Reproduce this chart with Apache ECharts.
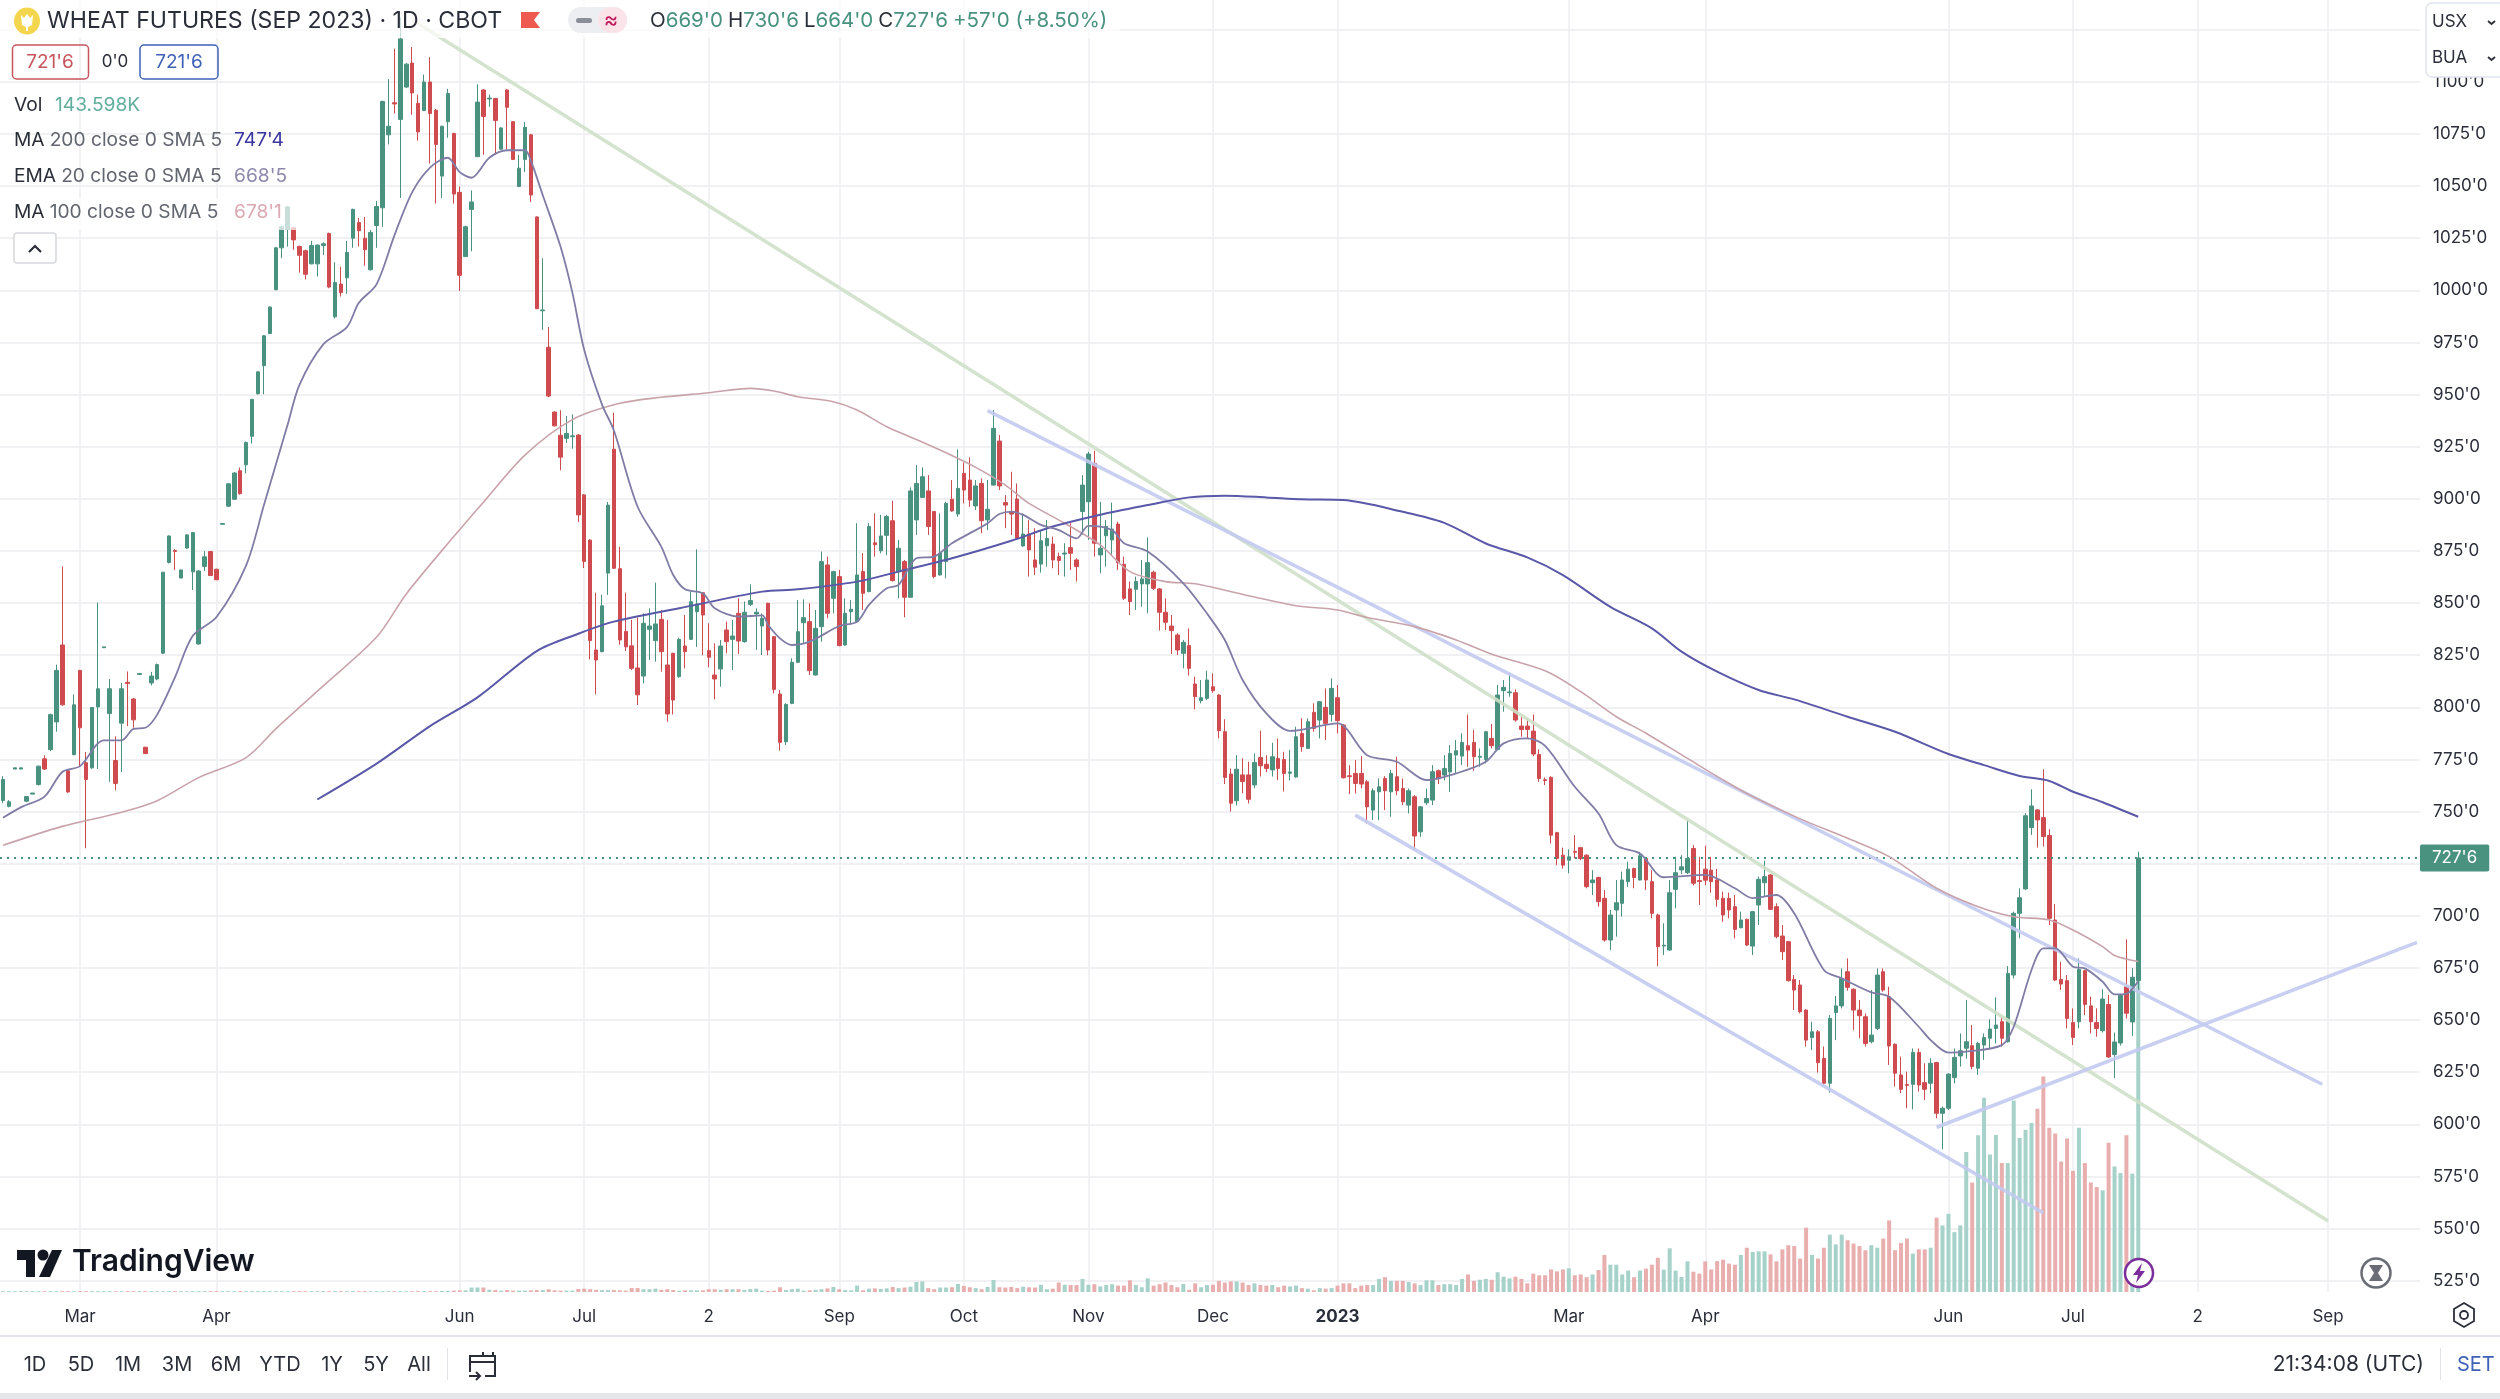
<!DOCTYPE html>
<html><head><meta charset="utf-8"><style>html,body{margin:0;padding:0;background:#fff}#c{width:2500px;height:1399px}</style>
<script src="https://cdn.jsdelivr.net/npm/echarts@6/dist/echarts.min.js"></script></head><body><div id="c"></div>
<script>
const tickLabels = {13:'Mar',36:'Apr',77:'Jun',98:'Jul',119:'2',141:'Sep',162:'Oct',183:'Nov',204:'Dec',225:'2023',264:'Mar',287:'Apr',328:'Jun',349:'Jul',370:'2',392:'Sep'};
const slotCount = 408;
const lastPrice = 727.75;
const opens = [
755.3,752.5,770.4,770.4,755,758.4,763,775.3,779.7,793,
829.9,769.6,777.3,817.7,773.4,771,800.2,828.6,797,774.5,
792.4,812,804,815.8,780.9,811.7,813.6,826,869.5,875.2,
862,876.4,865,830.4,867.6,874.7,866.2,887.8,896.5,899.8,
913.5,916.3,930,950.4,963.9,979.3,1000.3,1020.4,1029.2,1030,
1021,1019,1012.7,1012.7,1021.5,1027.3,987.3,1003,1006,1025,
1032.5,1025,1009.9,1031.1,1039.6,1074.6,1090,1082,1097.5,1109,
1089.7,1086.2,1099.9,1086.4,1054.8,1080.9,1075.2,1047,1016.2,1038.8,
1064.1,1096.1,1091.8,1092,1067.7,1096.1,1080.9,1049.8,1062.8,1074.6,
1035.2,990.2,972.7,941.6,930.5,929,929.8,930.6,901.9,880.2,
827.5,826.7,864.4,923.8,866.5,836.4,829.5,818.9,815,837.4,
832,842.2,820.3,825.9,814.7,829.4,832.6,845.9,855,827.2,
815.5,818.4,837.1,832.6,845.1,831.5,849.4,844.8,839,849.9,
833.9,806.4,783.5,801.9,821.6,840.6,841.1,815.5,838.7,868.3,
852.3,862.7,829.9,845.9,841.1,865.1,855.5,878.9,875.1,882.5,
889.5,865.1,869.9,852.8,889.9,900.7,903.8,893.9,863.5,869.9,
899.8,892.7,912.2,909,896.6,907.4,889.9,906.6,927.7,898.2,
893.9,899.9,877.4,883.1,870.7,868.7,877.5,878.3,872.3,873.5,
876.6,870.7,893.9,898.6,917,873.1,882.3,880.3,887.9,868.6,
856.8,856.6,859.2,859.2,864.8,856.8,845.6,839,834.7,825.9,
829.6,811.2,803.2,804.3,809.9,805.9,788.3,768,755.2,767.6,
767.6,762.8,775.9,772.7,770,775.5,775,768.4,766.6,787.5,
780.3,797.6,793.9,800,796.6,804.6,791.5,767.2,768.3,768.3,
764.3,750.7,759.5,765.9,759.5,766.7,761.1,753.1,757.1,740.3,
754.2,755.5,769.6,767.5,769,777.1,776.6,781.6,783.2,776.1,
775,785.1,779.8,808,807,807,791,791,788.6,777.4,
765.3,766.4,739.9,729.1,726.7,730.9,732.7,729.1,715.9,718.4,
708.4,688.4,702.8,706,716.4,722.7,717.2,727.5,716.4,700.4,
685.5,683.6,712.7,722,720.7,732.3,716.9,722.4,721.9,717.2,
708.4,708.4,704.4,694.3,698.3,685.5,705.2,715.9,719.6,704.4,
690.3,687.6,669.5,666.8,654.8,641.6,644.4,631.6,619.7,653.6,
656.8,673.2,664.8,654.8,651.6,639.6,646,673.2,661.2,638.4,
623.7,619.1,619.2,634.5,620,619.7,629.6,605.3,607.7,622.4,
632.8,636.5,637.7,626.9,638,641.3,646,649.2,639.6,671.6,
701.2,712.9,742.3,750.8,747.1,738.5,698,669.5,668.9,648.8,
649.2,673.7,656.8,648.8,644.9,657.5,633.5,639,666,649.1,669];
const closes = [
765.4,754.7,771,771,757.2,758.9,771.8,770.4,796.5,817.7,
801.2,759.4,801.2,790.2,765.4,799.9,808.9,829,808.9,763.5,
808.9,811.4,794,816.2,777.8,815,820.5,864.8,882.2,874.8,
865.9,882.7,883.8,865.4,872.2,863.2,861.2,888.2,907.2,912.4,
902.5,927,947.7,960.9,978.2,992,1020.4,1030.5,1040,1024.2,
1016.8,1007.7,1021.5,1021.7,1022.3,1001.6,1003.8,998.9,1018.2,1038.8,
1028.6,1019.5,1027.8,1040.2,1090.6,1078.7,1089.4,1120.6,1108.5,1094.7,
1076,1099.9,1084.8,1070,1078.7,1094.4,1046.2,1007.2,1030.5,1042.4,
1090.3,1083.4,1092.2,1081.5,1077.9,1087.8,1062.8,1058.6,1078.2,1045.7,
991.2,990.6,949.3,935,920,931.4,930.2,892.3,870,832,
822.7,848.7,897,866.7,832.3,829,818.7,806,840.3,839,
840,826.7,796.8,803.5,832.6,826.7,850.7,849.6,844.3,824,
813.6,829.4,831.5,834.2,831.8,845.6,851.2,845.6,842.7,827.5,
808.6,783.2,801.4,821.6,836.3,843,817.6,837.9,869.9,845.1,
865.1,829.6,845.1,847,863.5,854.7,886.7,878,882.2,891.5,
860.8,876.3,852.8,903.8,907.4,910.6,886.7,862.7,873.9,897.8,
894.2,905,904.2,899.4,906.2,889.5,895,933.8,906.2,897,
892.7,881,883.1,875.5,867.2,879.9,881,870.7,870.4,874,
873.9,867.5,906.6,921.5,878.7,876.3,886.7,885.5,869.4,852.3,
850.7,860.3,861.6,869.4,857.1,845.6,840.8,836.8,827.5,831.2,
818.7,805.1,804.6,813.1,808,788.8,766.4,754,770.3,764.4,
755.9,773.6,772,770.7,776.3,770.7,768.3,769,785.9,781.1,
793.1,789.9,802.7,792.3,809.1,793.6,766.2,766.8,763.5,763.2,
752.3,760,761.9,760,768.3,760,754.7,760,738.3,752.3,
756.3,769.1,765.9,770.7,777.9,779.2,783.2,779.5,776.3,776.5,
788.3,781.6,805.9,809.6,807.4,793.9,789.4,789.4,777.6,765.9,
764.9,738.7,727.5,724.3,728.3,730.5,727.5,714,717.2,706.8,
688.4,700.4,706.3,717.2,722.4,718.4,728.8,717.2,701.2,685.2,
685.9,711.1,720.7,723.5,727.5,715.6,716.5,717.1,716.4,707.9,
700.4,702.8,693.5,698,686,702,717.5,718.8,703.1,690,
682.8,668.9,664.4,654,640.4,644.4,629.6,619.7,650.8,656.8,
670,665.7,654.8,652.1,638.8,642.8,671.6,664.4,637.6,624.5,
616.8,618.7,634.5,618.9,616.8,629.3,605.3,607.7,624.1,632.1,
635.3,639.6,627.7,638.8,641.6,645.7,647.6,641.3,672.4,701.2,
708.7,748,752.7,746,738,698.8,669.2,667.3,650.8,641.7,
674.3,657.5,649.2,646,660.1,632.3,639.5,661.8,653.3,670.5,727.75];
const lows = [
754,752,770.4,770.4,754.5,758.4,762.5,770,779,788.3,
800.7,759,777,771.8,732.4,770.5,770.4,828.6,764.3,760.2,
769,791,790.2,815.8,777.8,810.5,813,825.5,869,865.9,
862,876,856.3,830,865.4,863,861,887.8,896,899.5,
902,912.2,926.5,950,950.2,979,1000,1015.4,1021,1019.5,
1008.5,1005.2,1012.5,1006.6,1017,1001,986.5,997,998.3,1020.4,
1021,1011.8,1009.5,1020.4,1030.5,1070,1084.8,1044.3,1097,1084.2,
1071.8,1086,1060.8,1041.6,1044.3,1073.2,1041.6,999.7,1016,1018.7,
1064,1065,1088,1065,1067.5,1067.7,1062.5,1049.5,1056.7,1042.4,
991,981,948.8,934.7,913.7,926.8,924,888.8,866.8,823,
806.2,826.4,853.9,866.4,830,827,817.9,801.1,811.5,822.7,
821.9,817.1,793.1,796.6,814.2,818.7,832.3,829,825,819.2,
803.8,809.9,825.9,817.9,825.6,831,848.6,827.5,825.1,825,
806.7,779.2,781.9,801.5,821.2,830.7,815.5,815.2,831.5,842.7,
845.1,829.3,829.6,840.3,840.8,846.7,855.2,872.3,873.9,873,
860.3,852.3,843.2,852.5,882.7,900.4,882.7,861.9,863.2,861.9,
893.8,891.4,897.8,896.2,894.6,883.5,885,906.3,904.2,885.9,
882.7,880.3,877,862.7,863.5,864.6,867.5,866.7,863.5,862.7,
865.9,860.3,882.7,880.3,872.3,864.3,867.5,873,865.9,851.5,
844.3,846.7,848.3,845.1,856.3,836.8,837.1,825.6,825.1,818.7,
815.2,799,801.9,803.5,807,785.1,763.2,750,752.9,758.8,
753.9,761.2,766.8,768.9,766.8,765.1,759.6,765,766.3,778.7,
780,788.3,785.1,784.3,793.1,787.5,765.9,758.4,758.7,761.1,
744.3,745.9,745.9,750.7,747.5,757.9,753.1,749.1,731.5,737.9,
753.1,753.1,763.2,765,759.5,768.3,772.3,771.5,769.6,771.5,
773.1,780.3,779.4,797.9,805.1,793.1,785.9,785.1,776.6,764.3,
762.7,734.7,724.3,722.7,720.4,727.5,726.7,713.2,710,704.4,
687.6,683.6,690,699.6,713.9,713.2,717,712.4,698.8,675.9,
681.2,683.2,703.6,720,720,714.6,705.2,714.6,711.1,704.4,
697.2,698.8,689.2,694,685.5,681.2,695.6,709.2,702.8,689.2,
678.8,668.5,654.8,653.2,637.3,635.6,624.8,618.9,615.2,640.4,
655.6,664.1,645.2,641.3,637.3,638.8,645.2,663.6,628.5,618.1,
614.9,607.7,607.2,615.7,611.7,614.9,602.9,588,606.9,619.7,
627.7,631.5,626.4,623.7,630.9,636.4,638.8,637.3,639.2,670,
689.2,712.5,738.8,732.7,733.2,695.6,668.8,664.4,646,638,
646,652.4,643.6,642,644,631.8,622.2,637.8,650.8,642.4,664];
const highs = [
767,755.5,771,771,757.5,758.9,772,777,797,820.5,
867.6,770,806.2,818,778.6,800.2,850.2,829,813.6,786.1,
811.7,817.2,804.5,816.2,780.9,817,821,865,882.5,875.8,
866,883,884,865.8,875,875,866.5,888.2,907.5,912.8,
915,927.5,948,961.2,978.5,992.3,1020.8,1031,1040.5,1030.5,
1021.5,1019.5,1023.7,1022,1023,1027.7,1013.5,1011.3,1023.7,1039.2,
1034.7,1035.2,1029,1042.9,1091,1101.3,1115.9,1131,1109,1116.7,
1093.9,1103.5,1111.8,1087,1079,1096.6,1075.6,1049.8,1031,1047.9,
1098.8,1096.5,1093.9,1092.3,1078.2,1096.5,1081.2,1065,1080.7,1075,
1035.5,1015.4,982.4,942,942.5,939.7,940.5,931,902.3,880.6,
855,854,898.5,941.3,877,855,842,843,845.1,847.5,
859.8,846.7,841.9,826.2,833.4,844.3,855.5,875.8,855.3,840.3,
830.7,832.3,841.1,841.9,852.3,850.7,859,847.5,845,850.2,
834.2,808.3,802,823.5,851.5,851.8,849.9,846.7,874.7,872.3,
865.5,865.9,852.3,851.5,888.3,873.9,888.3,893,892.3,892.3,
899.1,880.3,870.7,905.5,916.2,915.1,911.4,894.2,893,898.6,
909,923.7,917.4,919.9,909,909.8,909,942.6,930.6,901.8,
913,907.4,893,889.9,885.9,885,889.9,881.9,874.2,878.7,
888.3,871.5,911.4,922.6,923.1,898.6,889.9,898.2,889,872.3,
860.3,862.7,870.7,881.5,865.5,857.2,852.3,844.3,835.5,832.3,
837.9,814.7,813.1,817.6,816.3,806.4,794.3,770.7,777.1,775.5,
773.9,777.9,788.8,777,783,785,778.7,779.6,790.7,794.7,
794.7,801.9,803,809.1,813.9,810.7,792,772.3,774.7,776.6,
765.1,761.1,765.9,767,770,776.3,765.9,761.1,757.9,752.7,
761.1,772.3,770.2,777.1,781.9,784.3,787.5,796.6,789.1,780.3,
788.7,792,810.7,813.1,816.6,808.6,795.8,794.7,796.6,779.8,
766.4,767,740.3,732.7,731.9,738.7,733.1,729.5,721.9,718.8,
712.4,702.8,717.2,721.2,725.9,723.1,730.7,728,721.9,701,
696.4,717.2,728.3,729.1,745.9,733.9,728.3,733.6,728.3,722.5,
711.6,711.1,710,702,698.7,702.4,718.8,726.5,720,706,
695.6,688,671.6,669.2,655.2,649.2,645.2,637.3,652.4,661.6,
674.8,679.6,665.2,659.6,653.2,664.4,674.8,674.8,666,638.8,
632.5,625.3,636.4,636.4,629.3,631.7,630,608.5,624.4,636.4,
643.6,659.6,647.6,639.6,643.6,650.4,660.9,651.6,675.9,702,
713.2,749.2,760.7,751.1,770.3,741.6,705.7,678,671.6,655.6,
679.6,674.1,661.2,655.6,664.8,662.1,644,662.6,688.7,674.9,730.75];
const volumes = [
.3,.3,.3,.3,.3,.3,.3,.3,.3,.3,.3,.3,.3,.3,.3,.3,.3,.3,.3,.3,
.3,.3,.3,.3,.3,.3,.3,.3,.3,.3,.3,.3,.3,.3,.3,.3,.3,.3,.3,.3,
.3,.3,.3,.3,.3,.3,.3,.3,.3,.3,.3,.3,.3,.3,.3,.3,.3,.3,.3,.3,
.3,.3,.3,.3,.3,.3,.3,.3,.3,.3,.3,.3,.3,.3,
.4,.4,.5,.6,.6,1.6,1.6,1.6,.8,.7,.5,.7,.5,.5,.5,.6,.7,.7,1,.6,.5,.5,.5,1.1,1.2,1,
.8,.7,.7,.7,.6,.5,1.4,1.4,1,1,1.2,.8,1,.7,.4,.6,.6,.6,.6,1,
1,.8,1,1,1,.7,1.1,1.2,.5,.4,.5,1.7,.7,1,1.2,.5,.6,.8,1,1.3,
1.8,1,.7,.6,2.3,.6,1.2,1.3,1.1,1.3,1.8,1.4,1.6,1.9,3.6,3.8,1.4,1,1.6,1.6,
1.7,2.9,2.2,1.7,1.4,1,1.8,4.3,1.7,1.6,1.8,1.4,1.9,1.7,1.6,
2.6,1,1.2,3.4,2.6,2.5,2.5,4.7,2.6,2.8,2,2.5,2.8,2.3,2.3,4.2,2.5,1.7,4.9,2.3,2.8,3.4,2.5,1.7,2.9,
.8,3.1,1.7,2.5,2.6,4,3.4,3.8,3.8,3.4,2.5,3.1,2.5,2.3,2.5,1.7,2.3,2,2.3,1.4,
1.2,.6,1.4,1.2,1.4,2.3,3.1,3.1,1.4,2.3,2.5,2.5,4.7,5.3,4,4,4,3.6,3.1,2.5,
4.2,4.2,2.5,2.8,2.8,2.5,4.7,6.3,4,4.4,4.7,4.4,7.1,5.5,4.9,5.5,4.7,3.1,6.6,6,
6,8.1,7.4,8.1,8.5,6,6.3,5.3,6.3,7.9,
13.3,9.8,9.8,6.3,7.7,5.3,7.7,8.4,9.8,12.3,8,15.7,7.7,5.4,11,7.3,6.6,11,8.1,11.1,
11.6,10.2,9.8,13.3,15.9,14.4,14.6,14.6,13.5,11,15.3,16.8,16.5,12,23.1,13.3,12,15.9,20.6,17.1,
20.6,18.6,17.4,16.5,15,16.8,15.9,19.2,25.7,15,17.6,19.2,13.8,15.3,15.3,15.9,26.7,23.9,28.1,21.5,
23.9,50.3,39.3,56.3,69.8,49.4,56.4,46.3,46.3,68.8,55.3,58.3,60.7,65.8,77.4,59,56.9,46.9,55.1,43.5,
59,46.3,39.3,37.7,36.5,53.6,45.1,42.7,56.3,42.5,143.6];
const ema20 = [[0,747],[3,752],[7,757.2],[10,769],[13,771.8],[17,784.2],[20,784.2],[22,789.7],[24,790.2],[26,796.5],[29,814.4],[32,834.3],[36,843.3],[41,868.1],[44,897],[48,935.6],[50,954.8],[54,974.1],[58,982.4],[60,994],[63,1003],[66,1026.4],[69,1047.1],[72,1058.9],[75,1063.6],[77,1056.7],[79,1054],[82,1063.6],[85,1067.2],[88,1067.2],[89,1062.2],[91,1045.7],[94,1021],[96,998.9],[98,971.4],[101,945.2],[103,932.8],[107,896.2],[111,877],[113,863.5],[115,856.6],[118,854.7],[120,847.5],[124,843.5],[128,844.1],[129,839.5],[131,833.1],[133,829.9],[136,831.5],[141,839],[144,841.1],[146,849.1],[149,857.1],[151,858.7],[154,871.5],[157,872.3],[160,878.7],[164,885],[166,888.3],[168,892.7],[170,893.9],[172,892.3],[175,887.5],[178,885],[181,881],[183,887],[187,885],[189,878.7],[193,874.7],[199,859.5],[203,845],[206,832.3],[209,813.1],[213,797.1],[217,788.7],[225,792.3],[230,777],[235,773.9],[240,765.1],[245,768.3],[250,773.9],[253,782.7],[257,785.1],[260,781.5],[265,761.9],[269,749.1],[272,733.9],[276,729.9],[280,718.5],[287,719.6],[292,713.2],[295,708.5],[299,710],[302,701.2],[307,674],[310,670],[315,663.3],[318,661.2],[323,646.8],[325,640.4],[328,634.4],[331,634.9],[337,638],[339,646.8],[342,674],[344,684.4],[346,684.4],[349,675.6],[351,674.8],[354,668.4],[356,662.3],[358,662.6],[359,665],[360,668.6]];
const ma100 = [[0,733.8],[10,742.9],[20,749.7],[26,755.2],[33,766.3],[41,775.9],[46,789.7],[54,810.3],[63,833.7],[68,854.4],[76,881.9],[81,898.4],[88,921],[96,938],[104,945.8],[111,948.7],[119,950.9],[126,953],[130,951.7],[134,949],[140,946.6],[144,942.6],[149,934.6],[154,928.5],[158,923.4],[164,915.1],[169,906.6],[173,897.8],[179,888.3],[185,877.9],[190,865.1],[196,860.3],[201,859.3],[211,852.9],[218,848.7],[225,846.7],[230,843.1],[238,838.7],[245,832.3],[251,825.5],[260,817.5],[266,807.5],[272,795.5],[277,787.6],[284,775.5],[290,765.2],[295,757.2],[303,746.5],[311,737.2],[318,728.4],[326,713.2],[333,704.4],[339,699.6],[345,698],[349,693.2],[354,685.2],[356,681],[360,678.1]];
const ma200 = [[53,755.8],[63,773],[72,791],[80,804.8],[90,827],[97,835.3],[103,841.1],[114,847.5],[128,855.5],[134,856.6],[144,860.3],[151,865.1],[160,871.5],[170,879.9],[177,886.7],[185,892.4],[193,897],[200,900.7],[206,901.5],[213,900.7],[219,899.8],[226,899.4],[236,893.8],[243,888.5],[250,878.6],[257,871.9],[263,863.4],[271,848.2],[278,837.9],[283,826.7],[289,817.1],[296,808.3],[302,803.8],[311,795.5],[319,788.3],[328,777.6],[334,772.3],[340,767.1],[345,764.7],[349,759.5],[354,754.5],[360,747.5]];
const trendGreen = [[69,1129.7],[392,553.6]];
const trendUpper = [[166,942.3],[391,619.2]];
const trendLower = [[228,748.3],[344,557.5]];
const trendRising = [[326,598.6],[407,687.3]];

const UP='#4a9280', DOWN='#d04b4f', INK='#2a2e39', F='Inter, sans-serif';
const cats = Array.from({length:slotCount},(_,i)=>tickLabels[i]||'');
const candles = opens.map((o,i)=>[o,closes[i],lows[i],highs[i]]);
const volBars = volumes.map((v,i)=>({value:v,itemStyle:{color:closes[i]>=opens[i]?'#a6d2ca':'#e9aeae'}}));
const line=(name,data,color,width,opacity,smooth)=>({name,type:'line',xAxisIndex:0,yAxisIndex:0,data,showSymbol:false,smooth:smooth||false,silent:true,z:5,lineStyle:{color,width,opacity}});

const T=(x,y,text,o={})=>({type:'text',x,y,z:100,silent:true,style:{text,fill:o.fill||INK,font:(o.weight||'400')+' '+(o.size||18)+'px '+F,textAlign:o.align||'left',textVerticalAlign:'middle',rich:o.rich}});
const R=(x,y,w,h,o={})=>({type:'rect',z:o.z||99,silent:true,shape:{x,y,width:w,height:h,r:o.r||0},style:{fill:o.fill||'none',stroke:o.stroke||'none',lineWidth:o.lw||1.5,opacity:o.opacity==null?1:o.opacity}});
const PL=(pts,o={})=>({type:'polyline',z:100,silent:true,shape:{points:pts},style:{stroke:o.stroke||INK,lineWidth:o.lw||2,fill:'none'}});
const PG=(pts,o={})=>({type:'polygon',z:100,silent:true,shape:{points:pts},style:{fill:o.fill||INK,stroke:o.stroke||'none',lineWidth:o.lw||1}});
const C=(x,y,r,o={})=>({type:'circle',z:o.z||100,silent:true,shape:{cx:x,cy:y,r},style:{fill:o.fill||'none',stroke:o.stroke||'none',lineWidth:o.lw||2}});
const E=(x,y,rx,ry,fill)=>({type:'ellipse',z:100,silent:true,shape:{cx:x,cy:y,rx,ry},style:{fill}});
const LEG=19.2;
const legRich={d:{fill:INK,font:'400 '+LEG+'px '+F},g:{fill:'#62666f',font:'400 '+LEG+'px '+F}};

const gfx=[
 R(0,0,1120,38,{fill:'#fff',opacity:.7,z:98}),R(0,198,296,32,{fill:'#fff',opacity:.7,z:98}),
 E(27,21,13,13.5,'#f3d64e'),PG([[21,15],[24,18],[27,14],[30,18],[33,15],[32,25],[28,27],[28,31],[26,31],[26,27],[22,25]],{fill:'#fff'}),
 T(47,21,'WHEAT FUTURES (SEP 2023) · 1D · CBOT',{size:23.1}),
 PG([[521,12],[540,12],[534,20],[540,28],[521,28]],{fill:'#ef5a50'}),
 R(568,7,59,26,{fill:'#eceef1',r:13}),R(598,7,29,26,{fill:'#fbe3ea',r:13}),R(576,18,16,5,{fill:'#8b8f99',r:2.5}),
 T(611,20,'≈',{size:22,align:'center',fill:'#c2185b'}),
 T(650,21,"{d|O}{g|669'0} {d|H}{g|730'6} {d|L}{g|664'0} {d|C}{g|727'6} {g|+57'0 (+8.50%)}",{rich:{d:{fill:INK,font:'400 20.5px '+F},g:{fill:'#4a9280',font:'400 20.5px '+F}}}),
 R(12.5,45,76,34,{stroke:'#c8545c',r:4}),T(50,62,"721'6",{size:19,align:'center',fill:'#c8545c'}),
 T(115,62,"0'0",{size:17,align:'center'}),
 R(140,45,78,34,{stroke:'#3f62b8',r:4}),T(179,62,"721'6",{size:19,align:'center',fill:'#3f62b8'}),
 T(14,105,'Vol',{size:LEG}),T(55,105,'143.598K',{size:LEG,fill:'#62ae9e'}),
 T(14,140,'{d|MA} {g|200 close 0 SMA 5}',{rich:legRich}),T(234,140,"747'4",{size:LEG,fill:'#3a36a0'}),
 T(14,176,'{d|EMA} {g|20 close 0 SMA 5}',{rich:legRich}),T(234,176,"668'5",{size:LEG,fill:'#8d89ac'}),
 T(14,212,'{d|MA} {g|100 close 0 SMA 5}',{rich:legRich}),T(234,212,"678'1",{size:LEG,fill:'#dca8b2'}),
 R(14,233,42,30,{stroke:'#d6d8dd',fill:'#fff',r:3}),PL([[29,252],[35,246],[41,252]],{lw:2.2}),
 R(2426,3,80,74,{stroke:'#e0e3eb',fill:'#fff',r:6}),
 T(2432,22,'USX',{size:17}),T(2432,58,'BUA',{size:17}),PL([[2488,21],[2491.5,24],[2495,21]],{lw:1.8}),PL([[2488,57],[2491.5,60],[2495,57]],{lw:1.8}),
 PG([[17,1250],[35,1250],[35,1277],[26,1277],[26,1260],[17,1260]],{fill:'#131722'}),C(43,1255,5.5,{fill:'#131722'}),PG([[52,1250],[62,1250],[50,1277],[39,1277]],{fill:'#131722'}),
 T(72,1262,'TradingView',{size:30,weight:'600',fill:'#131722'}),
 C(2139,1273,14,{fill:'#fff',stroke:'#7b2d9b',lw:2.5}),PG([[2142,1263],[2133,1275],[2138,1275],[2136,1283],[2145,1271],[2140,1271]],{fill:'#7b2d9b'}),
 C(2376,1273,14.5,{fill:'#fff',stroke:'#6a6d75',lw:2.5}),PG([[2369,1265],[2383,1265],[2378,1273],[2383,1281],[2369,1281],[2374,1273]],{fill:'#6a6d75'}),
 PG([[2464,1303],[2474,1309],[2474,1321],[2464,1327],[2454,1321],[2454,1309]],{fill:'#fff',stroke:INK,lw:1.8}),C(2464,1315,4,{stroke:INK,lw:1.8}),
 R(0,1335,2500,2,{fill:'#e0e3eb'}),R(0,1393,2500,6,{fill:'#e4e6ea'}),
 T(35,1365,'1D',{align:'center',size:20}),T(81,1365,'5D',{align:'center',size:20}),T(128,1365,'1M',{align:'center',size:20}),T(177,1365,'3M',{align:'center',size:20}),T(226,1365,'6M',{align:'center',size:20}),T(280,1365,'YTD',{align:'center',size:20}),T(332,1365,'1Y',{align:'center',size:20}),T(376,1365,'5Y',{align:'center',size:20}),T(419,1365,'All',{align:'center',size:20}),
 R(447,1348,1,32,{fill:'#e0e3eb'}),
 PL([[483,1352],[483,1356]],{}),PL([[493,1352],[493,1356]],{}),PL([[470,1372],[470,1356],[495,1356],[495,1376],[485,1376]],{}),PL([[470,1362],[495,1362]],{}),PL([[469,1376],[480,1376]],{}),PL([[476,1372],[480,1376],[476,1380]],{}),
 T(2424,1365,'21:34:08 (UTC)',{align:'right',size:21}),R(2440,1348,1,32,{fill:'#e0e3eb'}),T(2457,1365,'SET',{size:20,fill:'#3f62b8'})
];

const chart=echarts.init(document.getElementById('c'),null,{renderer:'canvas',width:2500,height:1399});
chart.setOption({
 animation:false,backgroundColor:'#fff',
 grid:[{left:0,width:2420,top:-22.4,height:1303.1,outerBoundsMode:'none',containLabel:false},{left:0,width:2420,top:0,height:1292,outerBoundsMode:'none',containLabel:false}],
 xAxis:[
  {type:'category',gridIndex:0,data:cats,show:false,boundaryGap:true},
  {type:'category',gridIndex:1,data:cats,boundaryGap:true,axisLine:{show:false},axisTick:{show:false},
   splitLine:{show:true,alignWithLabel:true,interval:(i,v)=>v!=='',lineStyle:{color:'#eeeef2',width:1.5}},
   axisLabel:{interval:0,margin:16,fontFamily:'Inter',fontSize:17,color:INK,formatter:v=>v==='2023'?'{b|2023}':v,rich:{b:{fontFamily:'Inter',fontSize:17,fontWeight:700,color:INK}}}}
 ],
 yAxis:[
  {type:'value',gridIndex:0,position:'right',min:525,max:1150,interval:25,axisLine:{show:false},axisTick:{show:false},
   splitLine:{lineStyle:{color:'#f1f1f4',width:2}},axisLabel:{margin:13,fontFamily:'Inter',fontSize:17,color:INK,formatter:v=>v+"'0"}},
  {type:'value',gridIndex:1,show:false,min:0,max:464,splitLine:{show:false}}
 ],
 series:[
  {name:'Vol',type:'bar',xAxisIndex:1,yAxisIndex:1,data:volBars,barWidth:4,z:1,silent:true},
  {name:'Price',type:'candlestick',xAxisIndex:0,yAxisIndex:0,data:candles,barWidth:4,z:3,silent:true,
   itemStyle:{color:UP,color0:DOWN,borderColor:UP,borderColor0:DOWN,borderWidth:1},
   markLine:{silent:true,symbol:'none',animation:false,data:[{yAxis:lastPrice}],
    lineStyle:{color:'#4a9280',type:[2,5],width:2},
    label:{show:true,position:'end',distance:0,formatter:"727'6",backgroundColor:'#4a9280',color:'#fff',fontFamily:'Inter',fontSize:17,padding:[5,12],borderRadius:2}}},
  line('Green trend',trendGreen,'#cfe0c8',3.5,.9),
  line('Upper channel',trendUpper,'#c3caf0',3.5,.9),
  line('Lower channel',trendLower,'#c3caf0',3.5,.9),
  line('Rising trend',trendRising,'#c3caf0',3.5,.9),
  line('MA 100',ma100,'#c9a3aa',1.6,1,.3),
  line('MA 200',ma200,'#5a58a8',2,1,.3),
  line('EMA 20',ema20,'#7f7ca6',1.8,1,.3)
 ],
 graphic:{elements:gfx}
});
</script></body></html>
